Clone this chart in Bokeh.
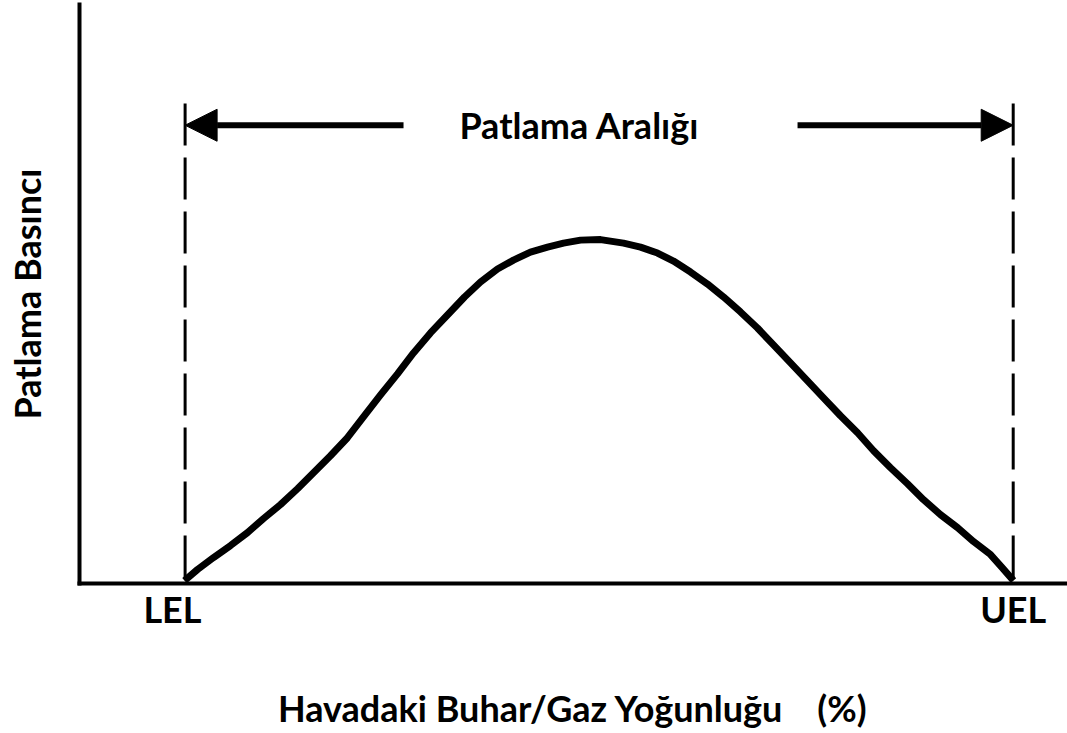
from bokeh.plotting import figure
from bokeh.models import Range1d, FixedTicker, Label, Arrow, NormalHead
from bokeh.embed import file_html
from bokeh.resources import INLINE

# ---- data (schematic units: x = vapour/gas concentration, y = explosion pressure) ----
LEL_X = 10.7
UEL_X = 94.6
concentration = [10.64, 11.96, 13.58, 15.30, 17.02, 18.64, 20.36, 22.09, 23.71, 25.43,
                 27.15, 28.77, 30.50, 32.22, 33.84, 35.56, 37.28, 39.01, 40.63, 42.35,
                 43.97, 45.69, 47.42, 49.04, 50.76, 52.79, 55.12, 56.84, 58.56, 60.18,
                 61.91, 63.63, 65.25, 66.97, 68.69, 70.31, 72.04, 73.76, 75.38, 77.10,
                 78.83, 80.45, 82.17, 83.89, 85.51, 87.23, 88.96, 90.58, 92.30, 93.41,
                 94.63]
pressure = [0.5, 2.43, 4.51, 6.60, 8.85, 11.28, 13.72, 16.49, 19.27, 22.22,
            25.35, 28.99, 32.81, 36.46, 40.10, 43.58, 46.70, 49.83, 52.43, 54.69,
            56.25, 57.64, 58.51, 59.20, 59.72, 59.81, 59.20, 58.51, 57.47, 56.08,
            54.17, 52.08, 49.83, 47.22, 44.44, 41.49, 38.37, 35.24, 32.29, 29.17,
            26.22, 23.09, 20.14, 17.36, 14.58, 11.98, 9.72, 7.29, 5.03, 2.90,
            0.5]
limit_top = 83.5
range_arrow_y = 79.7
arrow_left_tail = 32.83
arrow_right_tail = 72.75
lel_label_x = 9.42

title_text = "Patlama Aralığı"
x_label = "Havadaki Buhar/Gaz Yoğunluğu\u00a0\u00a0\u00a0\u00a0(%)"
y_label = "Patlama Basıncı"
lel_text = "LEL"
uel_text = "UEL"

FONT = "Lato"
SIZE = "36px"

p = figure(width=1067, height=732, output_backend="svg", toolbar_location=None,
           x_range=Range1d(0, 100), y_range=Range1d(0, 100.7))
p.min_border = 0
p.min_border_left = 79
p.min_border_right = 1
p.min_border_top = 4
p.min_border_bottom = 148
p.outline_line_color = None
p.grid.visible = False
p.background_fill_color = "white"
p.border_fill_color = "white"

for ax in (p.xaxis, p.yaxis):
    ax.axis_line_color = "black"
    ax.axis_line_width = 4
    ax.axis_line_cap = "square"
    ax.major_tick_line_color = None
    ax.minor_tick_line_color = None
    ax.major_tick_out = 0
    ax.minor_tick_out = 0
    ax.major_tick_in = 0
    ax.minor_tick_in = 0
    ax.axis_label_text_font = FONT
    ax.axis_label_text_font_style = "bold"
    ax.axis_label_text_font_size = SIZE
    ax.axis_label_text_color = "black"

# x axis: LEL / UEL marks and axis title
p.xaxis.ticker = FixedTicker(ticks=[lel_label_x, UEL_X])
p.xaxis.major_label_overrides = {lel_label_x: lel_text, UEL_X: uel_text}
p.xaxis.major_label_text_font = FONT
p.xaxis.major_label_text_font_style = "bold"
p.xaxis.major_label_text_font_size = SIZE
p.xaxis.major_label_text_color = "black"
p.xaxis.major_label_standoff = 3
p.xaxis.axis_label = x_label
p.xaxis.axis_label_standoff = 52

# y axis: only the title
p.yaxis.ticker = FixedTicker(ticks=[])
p.yaxis.major_label_standoff = 0
p.yaxis.major_label_text_font_size = "0px"
p.yaxis.axis_label = y_label
p.yaxis.axis_label_standoff = 31

# dashed limit lines
p.segment(x0=[LEL_X, UEL_X], y0=[limit_top, limit_top], x1=[LEL_X, UEL_X], y1=[0, 0],
          line_color="black", line_width=3, line_dash="42 12")

# pressure curve
p.line(concentration, pressure, line_color="black", line_width=7, line_join="round")

# range arrows
for tail, head in ((arrow_left_tail, LEL_X), (arrow_right_tail, UEL_X)):
    p.add_layout(Arrow(end=NormalHead(size=32, fill_color="black", line_color="black", line_width=1),
                       x_start=tail, y_start=range_arrow_y, x_end=head, y_end=range_arrow_y,
                       line_color="black", line_width=6))

p.add_layout(Label(x=50.66, y=range_arrow_y, text=title_text, text_font=FONT,
                   text_font_style="bold", text_font_size=SIZE, text_color="black",
                   text_align="center", text_baseline="alphabetic"))

open("out.html", "w").write(file_html(p, INLINE))
